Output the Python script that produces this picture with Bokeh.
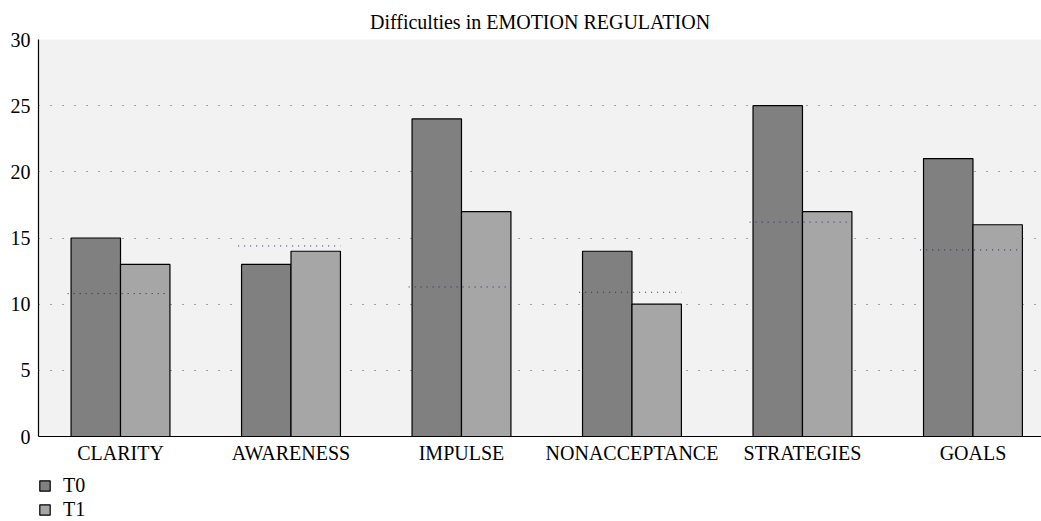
from bokeh.plotting import figure
from bokeh.layouts import column
from bokeh.models import Range1d, Legend, LegendItem, FixedTicker, ColumnDataSource
from bokeh.embed import file_html
from bokeh.resources import INLINE

categories = ["CLARITY", "AWARENESS", "IMPULSE", "NONACCEPTANCE", "STRATEGIES", "GOALS"]
t0 = [15, 13, 24, 14, 25, 21]
t1 = [13, 14, 17, 10, 17, 16]
norms = [10.8, 14.4, 11.3, 10.9, 16.2, 14.1]
y_ticks = [0, 5, 10, 15, 20, 25, 30]
series_names = ["T0", "T1"]
series_colors = ["#808080", "#a6a6a6"]

FONT = "Liberation Serif"
FS = "20px"
bar_w = 0.29
idx = list(range(len(categories)))

p = figure(width=1041, height=466, output_backend="svg", toolbar_location=None,
           x_range=Range1d(-0.481, 5.402), y_range=Range1d(0, 30),
           min_border_left=38, min_border_right=0, min_border_top=39, min_border_bottom=30)
p.background_fill_color = "#f2f2f2"
p.border_fill_color = "white"
p.outline_line_color = None

p.title.text = "Difficulties in EMOTION REGULATION"
p.title.align = "center"
p.title.text_font = FONT
p.title.text_font_size = FS
p.title.text_font_style = "normal"
p.title.text_color = "black"
p.title.standoff = 13

src = ColumnDataSource(dict(
    x0=[i - bar_w / 2 for i in idx], x1=[i + bar_w / 2 for i in idx],
    t0=t0, t1=t1,
    n0=[i - 0.31 for i in idx], n1=[i + 0.29 for i in idx], norm=norms))

p.vbar(x="x0", top="t0", width=bar_w, source=src, fill_color=series_colors[0],
       line_color="black", line_width=1.2)
p.vbar(x="x1", top="t1", width=bar_w, source=src, fill_color=series_colors[1],
       line_color="black", line_width=1.2)
p.segment(x0="n0", x1="n1", y0="norm", y1="norm", source=src,
          line_color="#1a2a6c", line_width=1, line_dash="1 5")

p.xgrid.grid_line_color = None
p.ygrid.grid_line_color = "#555555"
p.ygrid.grid_line_dash = "1 11"
p.ygrid.grid_line_width = 1

p.yaxis.ticker = FixedTicker(ticks=y_ticks)
p.xaxis.ticker = FixedTicker(ticks=idx)
p.xaxis.major_label_overrides = {i: c for i, c in zip(idx, categories)}
for ax in (p.xaxis[0], p.yaxis[0]):
    ax.axis_line_color = "black"
    ax.axis_line_width = 1.2
    ax.major_tick_line_color = None
    ax.minor_tick_line_color = None
    ax.major_tick_out = 0
    ax.major_tick_in = 0
    ax.major_label_text_font = FONT
    ax.major_label_text_font_size = FS
    ax.major_label_text_color = "black"
p.yaxis.major_label_standoff = 8
p.xaxis.major_label_standoff = 5

# legend strip below the chart (its frame is aligned with the chart frame)
lf = figure(width=1041, height=55, output_backend="svg", toolbar_location=None,
            x_range=Range1d(0, 1), y_range=Range1d(0, 1),
            x_axis_location=None, y_axis_location=None,
            min_border_left=38, min_border_right=0, min_border_top=0, min_border_bottom=0)
lf.outline_line_color = None
lf.background_fill_color = "white"
lf.xgrid.grid_line_color = None
lf.ygrid.grid_line_color = None
lsrc = ColumnDataSource(dict(x=[-5.0], top=[0.0]))
items = []
for name, col in zip(series_names, series_colors):
    r = lf.vbar(x="x", top="top", width=0.1, source=lsrc, fill_color=col,
                line_color="black", line_width=1.2)
    items.append(LegendItem(label=name, renderers=[r]))
legend = Legend(items=items, orientation="vertical", location=(0, 0),
                glyph_width=13, glyph_height=13, label_text_font=FONT,
                label_text_font_size=FS, label_height=20, spacing=1,
                padding=0, margin=0, border_line_color=None,
                background_fill_alpha=0, label_standoff=12,
                label_text_color="black")
lf.add_layout(legend, "center")

layout = column(p, lf, spacing=0)
open("out.html", "w").write(file_html(layout, INLINE))
